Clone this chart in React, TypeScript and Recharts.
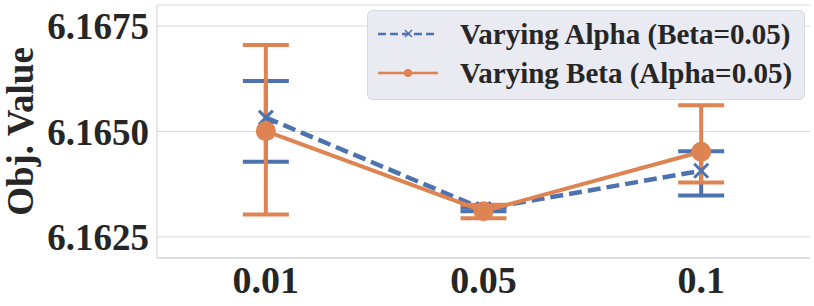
import React from 'react'
import {
  LineChart,
  Line,
  XAxis,
  YAxis,
  CartesianGrid,
  ErrorBar,
} from 'recharts'

const categories = ['0.01', '0.05', '0.1']
const alphaMean = [6.16533, 6.16316, 6.16407]
const alphaLow = [6.16428, 6.16311, 6.16348]
const alphaHigh = [6.1662, 6.1632, 6.16453]
const betaMean = [6.16501, 6.16311, 6.16452]
const betaLow = [6.16303, 6.16294, 6.16379]
const betaHigh = [6.16705, 6.16326, 6.16562]
const yTicks = [6.1625, 6.165, 6.1675]
const seriesNames = ['Varying Alpha (Beta=0.05)', 'Varying Beta (Alpha=0.05)']

const BLUE = '#4C72B0'
const ORANGE = '#DD8452'
const TEXT = '#262626'
const FONT = '"Liberation Serif", "Times New Roman", serif'

const data = categories.map((c, i) => ({
  x: c,
  alpha: alphaMean[i],
  alphaErr: [alphaMean[i] - alphaLow[i], alphaHigh[i] - alphaMean[i]],
  beta: betaMean[i],
  betaErr: [betaMean[i] - betaLow[i], betaHigh[i] - betaMean[i]],
}))

function XDot(props: any) {
  const { cx, cy } = props
  if (cx == null || cy == null) return null
  const s = 7
  return (
    <g>
      <line x1={cx - s} y1={cy - s} x2={cx + s} y2={cy + s} stroke={BLUE} strokeWidth={3} />
      <line x1={cx - s} y1={cy + s} x2={cx + s} y2={cy - s} stroke={BLUE} strokeWidth={3} />
    </g>
  )
}

// legend box sits in the top right corner, over the plot
function LegendBox() {
  return (
    <svg width={438} height={90} style={{ position: 'absolute', left: 367, top: 10 }}>
      <rect x={0.5} y={0.5} width={437} height={89} rx={5} fill="#EAEAF2" stroke="#d8d8e0" />
      <line x1={11} y1={24} x2={71} y2={24} stroke={BLUE} strokeWidth={2.5} strokeDasharray="8 4" />
      <line x1={38} y1={20} x2={45} y2={27} stroke={BLUE} strokeWidth={1.5} />
      <line x1={38} y1={27} x2={45} y2={20} stroke={BLUE} strokeWidth={1.5} />
      <line x1={11} y1={63} x2={71} y2={63} stroke={ORANGE} strokeWidth={2.5} />
      <circle cx={41} cy={63} r={4} fill={ORANGE} />
      {seriesNames.map((n, i) => (
        <text
          key={n}
          x={93}
          y={24 + i * 39}
          dy="0.35em"
          fontFamily={FONT}
          fontWeight="bold"
          fontSize={29}
          fill={TEXT}
        >
          {n}
        </text>
      ))}
    </svg>
  )
}

export default function App() {
  return (
    <div style={{ position: 'absolute', left: 0, top: 0, width: 814, height: 306, background: '#fff' }}>
      <LineChart width={814} height={306} data={data} margin={{ top: 5, right: 4, bottom: 0, left: 0 }}>
        <CartesianGrid vertical={false} stroke="#d9d9d9" />
        <XAxis
          dataKey="x"
          scale="band"
          height={48}
          tickLine={false}
          axisLine={{ stroke: '#cfcfcf' }}
          tick={{ fontSize: 38, fontWeight: 'bold', fill: TEXT, fontFamily: FONT }}
        />
        <XAxis
          xAxisId="top"
          dataKey="x"
          orientation="top"
          height={0}
          tick={false}
          tickLine={false}
          axisLine={{ stroke: '#cfcfcf' }}
        />
        <YAxis
          width={157}
          domain={[6.162, 6.168]}
          ticks={yTicks}
          allowDataOverflow
          tickLine={false}
          axisLine={{ stroke: '#cfcfcf' }}
          tickFormatter={(v: number) => v.toFixed(4)}
          tick={{ fontSize: 37, fontWeight: 'bold', fill: TEXT, fontFamily: FONT }}
          label={{
            content: (p: any) => {
              const vb = p.viewBox
              const lx = vb.x + 33
              const ly = vb.y + vb.height / 2
              return (
                <text
                  x={lx}
                  y={ly}
                  transform={`rotate(-90, ${lx}, ${ly})`}
                  textAnchor="middle"
                  fontFamily={FONT}
                  fontWeight="bold"
                  fontSize={37}
                  fill={TEXT}
                >
                  Obj. Value
                </text>
              )
            },
          }}
        />
        <YAxis
          yAxisId="right"
          orientation="right"
          width={0}
          domain={[6.162, 6.168]}
          tick={false}
          tickLine={false}
          axisLine={{ stroke: '#cfcfcf' }}
        />
        <Line
          dataKey="alpha"
          name={seriesNames[0]}
          stroke={BLUE}
          strokeWidth={4.5}
          strokeDasharray="13 6"
          dot={<XDot />}
          activeDot={false}
          isAnimationActive={false}
        >
          <ErrorBar dataKey="alphaErr" direction="y" width={23} stroke={BLUE} strokeWidth={4} />
        </Line>
        <Line
          dataKey="beta"
          name={seriesNames[1]}
          stroke={ORANGE}
          strokeWidth={4}
          dot={{ r: 10, fill: ORANGE, stroke: ORANGE, strokeWidth: 0 }}
          activeDot={false}
          isAnimationActive={false}
        >
          <ErrorBar dataKey="betaErr" direction="y" width={23} stroke={ORANGE} strokeWidth={4} />
        </Line>
      </LineChart>
      <LegendBox />
    </div>
  )
}
